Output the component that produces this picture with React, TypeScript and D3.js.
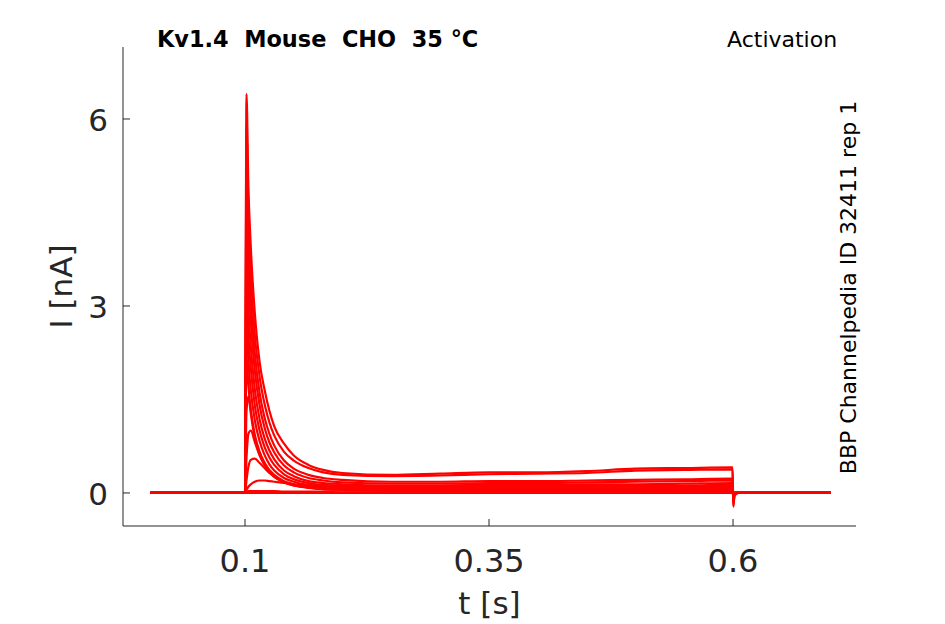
import React from "react";
import * as d3 from "d3";

// sample times [s] shared by every sweep
const times = [
  0.003, 0.0998, 0.1, 0.1015, 0.1035, 0.106, 0.11, 0.115, 0.12, 0.125, 0.13,
  0.14, 0.15, 0.165, 0.18, 0.2, 0.25, 0.3, 0.35, 0.4, 0.45, 0.5, 0.55, 0.5995,
  0.6003, 0.6015, 0.605, 0.65, 0.7,
];

// current [nA] of each sweep, smallest step first
const sweeps = [
  [0, 0, 0, 0, 0, 0, 0, 0, 0, 0, 0, 0, 0, 0, 0, 0, 0, 0, 0, 0, 0, 0, 0, 0, 0, 0, 0, 0, 0],
  [0, 0, 0, 0.01, 0, 0, 0, 0, 0, 0, 0, 0, 0, 0, 0, 0, 0, 0, 0, 0, 0, 0, 0, 0, 0, 0, 0, 0, 0],
  [0, 0, 0, 0.01, 0.01, 0, 0, 0, 0, 0, 0, 0, 0, 0, 0, 0, 0, 0, 0, 0, 0, 0, 0, 0, 0, 0, 0, 0, 0],
  [0, 0, 0, 0.02, 0.03, 0.03, 0.03, 0.03, 0.03, 0.03, 0.03, 0.02, 0.02, 0.02, 0.02, 0.01, 0.01, 0.01, 0.01, 0.01, 0.01, 0.01, 0.01, 0.01, 0, 0, 0, 0, 0],
  [0, 0, 0, 0.05, 0.1, 0.14, 0.18, 0.2, 0.2, 0.19, 0.18, 0.16, 0.14, 0.11, 0.09, 0.07, 0.04, 0.03, 0.02, 0.02, 0.02, 0.02, 0.02, 0.02, 0, 0, 0, 0, 0],
  [0, 0, 0, 0.2, 0.42, 0.53, 0.55, 0.48, 0.4, 0.32, 0.26, 0.18, 0.13, 0.09, 0.06, 0.05, 0.03, 0.03, 0.03, 0.03, 0.03, 0.03, 0.03, 0.03, -0.02, 0, 0, 0, 0],
  [0, 0, 0, 0.55, 0.95, 1.0, 0.82, 0.6, 0.45, 0.34, 0.26, 0.17, 0.12, 0.08, 0.06, 0.05, 0.04, 0.04, 0.04, 0.04, 0.04, 0.05, 0.05, 0.05, -0.04, 0, 0, 0, 0],
  [0, 0, 0, 1.3, 1.55, 1.27, 0.88, 0.62, 0.46, 0.34, 0.26, 0.17, 0.12, 0.09, 0.07, 0.06, 0.05, 0.05, 0.05, 0.05, 0.06, 0.06, 0.06, 0.06, -0.05, 0, 0, 0, 0],
  [0, 0, 0, 2.2, 1.72, 1.33, 0.94, 0.66, 0.49, 0.37, 0.29, 0.19, 0.14, 0.1, 0.09, 0.08, 0.07, 0.07, 0.07, 0.07, 0.08, 0.08, 0.08, 0.08, -0.06, 0, 0, 0, 0],
  [0, 0, 0, 2.8, 2.12, 1.64, 1.17, 0.83, 0.61, 0.46, 0.36, 0.24, 0.18, 0.13, 0.11, 0.1, 0.09, 0.08, 0.09, 0.09, 0.09, 0.1, 0.1, 0.1, -0.08, -0.01, 0, 0, 0],
  [0, 0, 0, 3.4, 2.52, 1.99, 1.41, 1.0, 0.74, 0.57, 0.45, 0.3, 0.22, 0.16, 0.13, 0.12, 0.1, 0.1, 0.11, 0.11, 0.11, 0.12, 0.12, 0.13, -0.1, -0.01, 0, 0, 0],
  [0, 0, 0, 4.0, 2.97, 2.34, 1.67, 1.18, 0.88, 0.68, 0.54, 0.36, 0.27, 0.19, 0.16, 0.14, 0.12, 0.12, 0.13, 0.13, 0.14, 0.14, 0.15, 0.16, -0.12, -0.02, 0, 0, 0],
  [0, 0, 0, 4.7, 3.47, 2.74, 1.97, 1.4, 1.05, 0.81, 0.65, 0.44, 0.33, 0.24, 0.2, 0.17, 0.15, 0.15, 0.16, 0.16, 0.17, 0.18, 0.19, 0.2, -0.14, -0.02, 0, 0, 0],
  [0, 0, 0, 5.3, 3.92, 3.09, 2.25, 1.6, 1.21, 0.95, 0.76, 0.52, 0.39, 0.29, 0.24, 0.21, 0.18, 0.18, 0.19, 0.19, 0.2, 0.21, 0.22, 0.23, -0.17, -0.03, 0, 0, 0],
  [0, 0, 0, 5.9, 4.42, 3.5, 2.55, 1.86, 1.43, 1.13, 0.92, 0.66, 0.52, 0.4, 0.33, 0.29, 0.27, 0.28, 0.3, 0.31, 0.32, 0.36, 0.37, 0.38, -0.2, -0.04, 0, 0, 0],
  [0, 0, 0, 6.4, 4.9, 3.93, 2.9, 2.1, 1.66, 1.32, 1.07, 0.79, 0.6, 0.45, 0.37, 0.32, 0.29, 0.31, 0.33, 0.33, 0.35, 0.39, 0.4, 0.41, -0.22, -0.05, 0, 0, 0],
];

const xTicks = [0.1, 0.35, 0.6];
const yTicks = [0, 3, 6];

const title = "Kv1.4  Mouse  CHO  35 °C";
const protocol = "Activation";
const source = "BBP Channelpedia ID 32411 rep 1";

const W = 945;
const H = 624;
const axisColor = "#262626";
const font = "DejaVu Sans";

const App = () => {
  const x = d3.scaleLinear().domain([-0.025, 0.726]).range([123, 856]);
  const y = d3.scaleLinear().domain([-0.53, 7.155]).range([526, 47]);

  const line = d3
    .line<number>()
    .x((_, i) => x(times[i]))
    .y((d) => y(d))
    .curve(d3.curveMonotoneX);

  const [x0, x1] = x.range();
  const [y0, y1] = y.range();

  return (
    <svg
      width={W}
      height={H}
      style={{ position: "absolute", left: 0, top: 0, background: "#fff" }}
    >
      {/* traces */}
      <g fill="none" stroke="#ff0000" strokeWidth={2.2} strokeLinejoin="round">
        {sweeps.map((s, i) => (
          <path key={i} d={line(s) || ""} />
        ))}
      </g>

      {/* axes */}
      <g stroke={axisColor} strokeWidth={1} fill="none">
        <line x1={x0} x2={x0} y1={y1} y2={y0} />
        <line x1={x0} x2={x1} y1={y0} y2={y0} />
        {yTicks.map((t) => (
          <line key={t} x1={x0} x2={x0 + 7} y1={y(t)} y2={y(t)} />
        ))}
        {xTicks.map((t) => (
          <line key={t} x1={x(t)} x2={x(t)} y1={y0} y2={y0 - 7} />
        ))}
      </g>

      <g fill={axisColor} fontFamily={font} fontSize={31}>
        {yTicks.map((t) => (
          <text key={t} x={108} y={y(t) + 12.5} textAnchor="end">
            {t}
          </text>
        ))}
        {xTicks.map((t) => (
          <text key={t} x={x(t)} y={572} textAnchor="middle" fontSize={32}>
            {t}
          </text>
        ))}
        <text x={(x0 + x1) / 2} y={614} textAnchor="middle">
          t [s]
        </text>
        <text
          transform={`translate(72,${(y0 + y1) / 2}) rotate(-90)`}
          textAnchor="middle"
        >
          I [nA]
        </text>
      </g>

      <text
        x={157}
        y={47}
        fontFamily={font}
        fontWeight="bold"
        fontSize={22.4}
        style={{ whiteSpace: "pre" }}
      >
        {title}
      </text>
      <text x={727} y={47} fontFamily={font} fontSize={22}>
        {protocol}
      </text>
      <text
        transform="translate(856,287.5) rotate(-90)"
        textAnchor="middle"
        fontFamily={font}
        fontSize={22}
      >
        {source}
      </text>
    </svg>
  );
};

export default App;
